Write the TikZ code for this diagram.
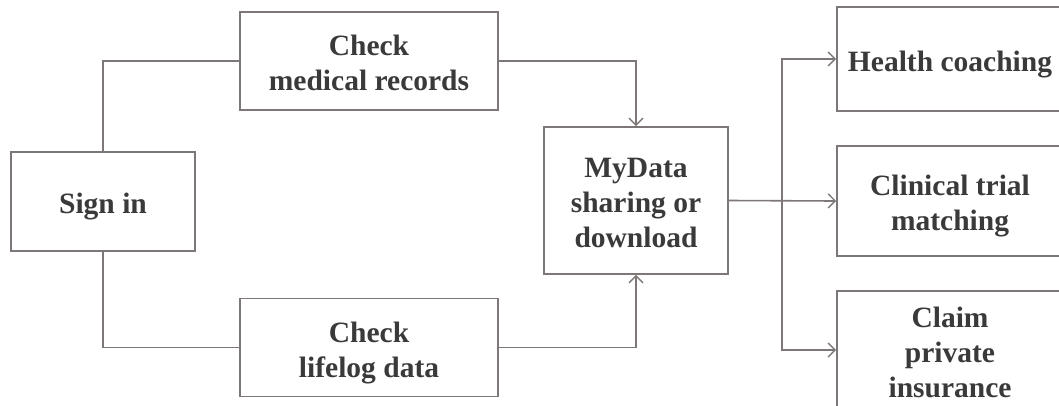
\documentclass[tikz,border=0pt]{standalone}
\usepackage{fontspec}
\setmainfont{Liberation Serif}
\usetikzlibrary{arrows.meta}
\definecolor{linec}{HTML}{7E7777}
\definecolor{textc}{HTML}{3A3A3A}
\newcommand\bxtext[1]{\raisebox{-5pt}[\height][\depth]{\begin{tabular}{@{}c@{}}#1\end{tabular}}}
\begin{document}
\begin{tikzpicture}[x=1pt,y=-1pt,
  box/.style={draw=linec, line width=1.6pt, fill=white,
    text=textc, font=\fontsize{29.5}{35}\selectfont\bfseries, inner sep=0pt},
  conn/.style={draw=linec, line width=1.6pt},
  arr/.style={conn, -{Straight Barb[length=7pt,width=14pt,line width=1.4pt]}}]
\useasboundingbox (0,0) rectangle (1059,405);
\node[box, minimum width=184pt, minimum height=99pt] (signin) at (103,201.5) {\bxtext{Sign in}};
\node[box, minimum width=258pt, minimum height=98pt] (medical) at (369,61) {\bxtext{Check\\medical records}};
\node[box, minimum width=258pt, minimum height=98pt] (lifelog) at (369,347.5) {\bxtext{Check\\lifelog data}};
\node[box, minimum width=184pt, minimum height=147pt] (mydata) at (636,200.5) {\bxtext{MyData\\sharing or\\download}};
\node[box, minimum width=226pt, minimum height=104pt] (health) at (950,59) {\bxtext{Health coaching}};
\node[box, minimum width=226pt, minimum height=110pt] (clinical) at (950,201) {\bxtext{Clinical trial\\matching}};
\node[box, minimum width=226pt, minimum height=118pt] (claim) at (950,350) {\bxtext{Claim\\private\\insurance}};
\coordinate (br) at (782,201);
\draw[conn] (signin.north) |- (medical.west);
\draw[conn] (signin.south) |- (lifelog.west);
\draw[arr] (medical.east) -| (mydata.north);
\draw[arr] (lifelog.east) -| (mydata.south);
\draw[arr] (mydata.east) -- (clinical.west);
\draw[arr] (br) |- (health.west);
\draw[arr] (br) |- (claim.west);
\end{tikzpicture}
\end{document}
